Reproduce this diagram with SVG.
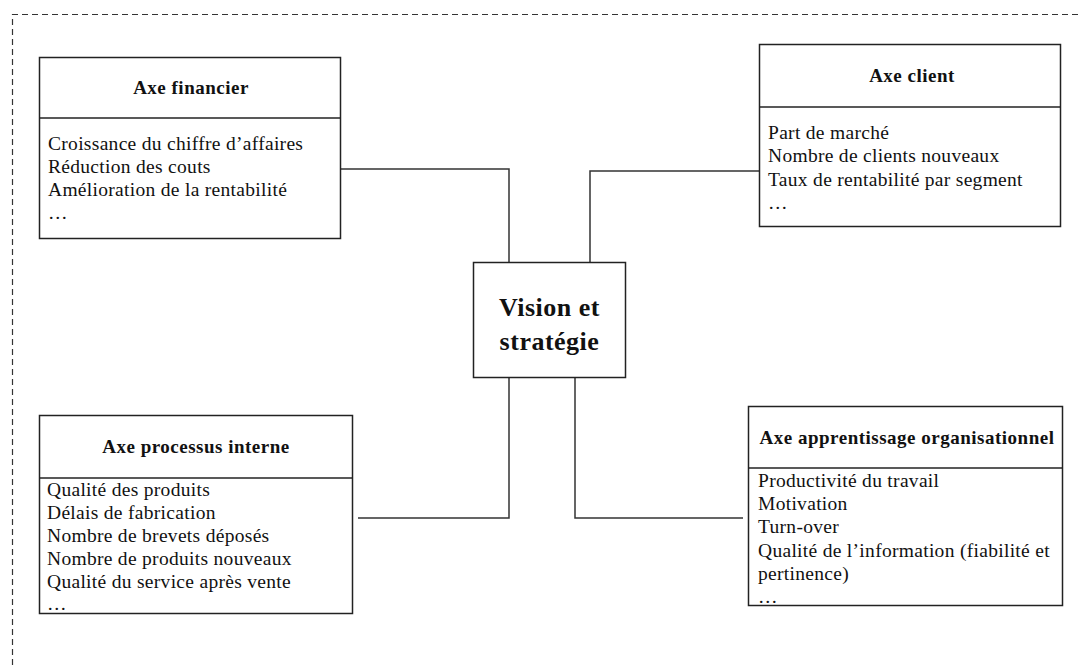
<svg xmlns="http://www.w3.org/2000/svg" width="1080" height="665" viewBox="0 0 1080 665">
  <style>
    .frame { fill: none; stroke: #333; stroke-width: 1.2; stroke-dasharray: 6 4; }
    .box { fill: #fff; stroke: #222; stroke-width: 1.5; }
    .div { stroke: #222; stroke-width: 1.5; }
    .link { fill: none; stroke: #333; stroke-width: 1.5; }
    .title { font-family: "Liberation Serif", "Times New Roman", serif; font-weight: bold; font-size: 19px; letter-spacing: 0.5px; fill: #111; }
    .item { font-family: "Liberation Serif", "Times New Roman", serif; font-size: 19.5px; letter-spacing: 0.3px; fill: #111; }
    .center { font-family: "Liberation Serif", "Times New Roman", serif; font-weight: bold; font-size: 26px; letter-spacing: 0.5px; fill: #111; }
  </style>
  <rect width="1080" height="665" fill="#fff"/>

  <!-- outer dashed frame, open to the right and bottom -->
  <path class="frame" d="M12.5 665 V14.5 H1080"/>

  <!-- connectors -->
  <g id="connectors">
    <path class="link" d="M341 169 H509 V262"/>
    <path class="link" d="M759 171 H590 V262"/>
    <path class="link" d="M509 378 V518 H358"/>
    <path class="link" d="M575 378 V518 H743"/>
  </g>

  <g id="axe-financier">
    <rect class="box" x="39.5" y="57.5" width="301" height="181"/>
    <line class="div" x1="39.5" y1="118" x2="340.5" y2="118"/>
    <text class="title" x="191" y="94" text-anchor="middle">Axe financier</text>
    <text class="item" x="48" y="150">Croissance du chiffre d’affaires</text>
    <text class="item" x="48" y="173">Réduction des couts</text>
    <text class="item" x="48" y="196">Amélioration de la rentabilité</text>
    <text class="item" x="48" y="219">…</text>
  </g>

  <g id="axe-client">
    <rect class="box" x="759.5" y="44.5" width="301" height="182"/>
    <line class="div" x1="759.5" y1="107" x2="1060.5" y2="107"/>
    <text class="title" x="912" y="82" text-anchor="middle">Axe client</text>
    <text class="item" x="768" y="139">Part de marché</text>
    <text class="item" x="768" y="162">Nombre de clients nouveaux</text>
    <text class="item" x="768" y="186">Taux de rentabilité par segment</text>
    <text class="item" x="768" y="209">…</text>
  </g>

  <g id="vision-strategie">
    <rect class="box" x="473.5" y="262.5" width="152" height="115"/>
    <text class="center" x="549.5" y="316" text-anchor="middle">Vision et</text>
    <text class="center" x="549.5" y="350" text-anchor="middle">stratégie</text>
  </g>

  <g id="axe-processus-interne">
    <rect class="box" x="39.5" y="415.5" width="313" height="198"/>
    <line class="div" x1="39.5" y1="478" x2="352.5" y2="478"/>
    <text class="title" x="196" y="453" text-anchor="middle">Axe processus interne</text>
    <text class="item" x="47" y="496">Qualité des produits</text>
    <text class="item" x="47" y="519">Délais de fabrication</text>
    <text class="item" x="47" y="542">Nombre de brevets déposés</text>
    <text class="item" x="47" y="565">Nombre de produits nouveaux</text>
    <text class="item" x="47" y="588">Qualité du service après vente</text>
    <text class="item" x="47" y="610">…</text>
  </g>

  <g id="axe-apprentissage">
    <rect class="box" x="748.5" y="406.5" width="314" height="199"/>
    <line class="div" x1="748.5" y1="468" x2="1062.5" y2="468"/>
    <text class="title" x="907" y="444" text-anchor="middle">Axe apprentissage organisationnel</text>
    <text class="item" x="758" y="487">Productivité du travail</text>
    <text class="item" x="758" y="510">Motivation</text>
    <text class="item" x="758" y="533">Turn-over</text>
    <text class="item" x="758" y="557">Qualité de l’information (fiabilité et</text>
    <text class="item" x="758" y="580">pertinence)</text>
    <text class="item" x="758" y="603">…</text>
  </g>
</svg>
